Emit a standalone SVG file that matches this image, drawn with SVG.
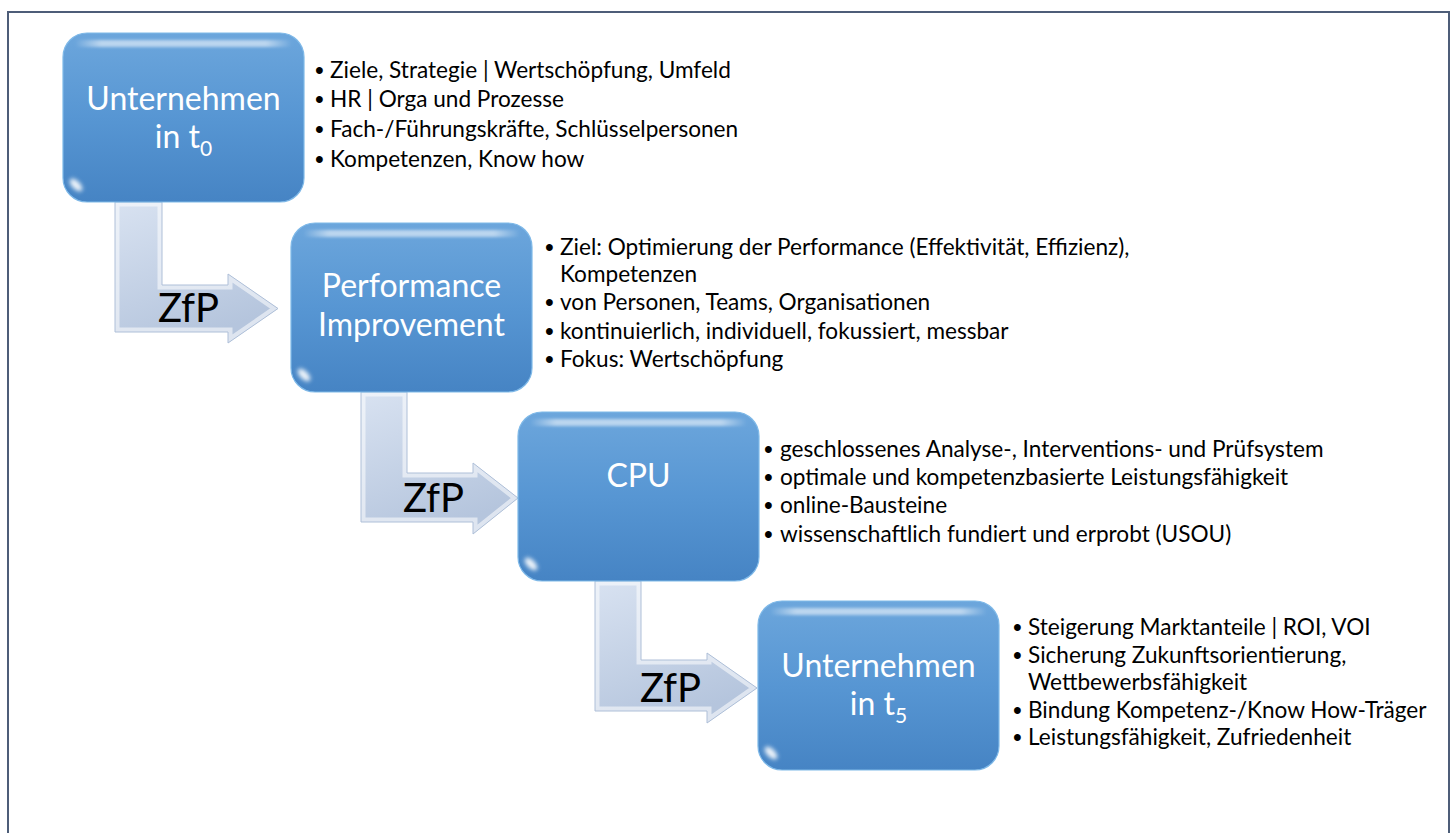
<svg xmlns="http://www.w3.org/2000/svg" width="1456" height="833" viewBox="0 0 1456 833">
  <style>
    .frame { fill: #ffffff; stroke: #4d5d78; stroke-width: 2; }
    .box { fill: url(#boxFill); stroke: #7fb9e8; stroke-width: 1.2; }
    .gloss { fill: url(#glossFill); filter: url(#soft); }
    .spot { fill: #ffffff; opacity: 0.9; filter: url(#soft2); }
    .label { font-family: Lato, "Open Sans", "Liberation Sans", sans-serif; font-size: 32px; fill: #ffffff; text-anchor: middle; }
    .sub { font-size: 21px; }
    .arrow { fill: url(#arrowFill); }
    .bevel { fill: none; stroke: #ffffff; stroke-opacity: 0.55; stroke-width: 9; }
    .edge { fill: none; stroke: #aebfd8; stroke-width: 1; }
    .zfp { font-family: Lato, "Open Sans", "Liberation Sans", sans-serif; font-size: 40px; fill: #000000; }
    .item { font-family: Lato, "Open Sans", "Liberation Sans", sans-serif; font-size: 22.6px; fill: #000000; }
    .dot { font-family: "Liberation Sans", Arial, sans-serif; font-size: 25px; fill: #000000; }
  </style>
  <defs>
    <linearGradient id="boxFill" x1="0" y1="0" x2="0" y2="1">
      <stop offset="0" stop-color="#6ca6dc"/>
      <stop offset="0.5" stop-color="#5796d3"/>
      <stop offset="1" stop-color="#4684c4"/>
    </linearGradient>
    <linearGradient id="glossFill" x1="0" y1="0" x2="1" y2="0">
      <stop offset="0" stop-color="#ffffff" stop-opacity="0"/>
      <stop offset="0.12" stop-color="#ffffff" stop-opacity="0.55"/>
      <stop offset="0.88" stop-color="#ffffff" stop-opacity="0.55"/>
      <stop offset="1" stop-color="#ffffff" stop-opacity="0"/>
    </linearGradient>
    <linearGradient id="arrowFill" x1="0" y1="0" x2="0.4" y2="1">
      <stop offset="0" stop-color="#d8e2f1"/>
      <stop offset="1" stop-color="#b5c5dd"/>
    </linearGradient>
    <filter id="soft" x="-10%" y="-100%" width="120%" height="300%">
      <feGaussianBlur stdDeviation="1.6"/>
    </filter>
    <filter id="soft2" x="-100%" y="-100%" width="300%" height="300%">
      <feGaussianBlur stdDeviation="2.2"/>
    </filter>
    <!-- arrow outlines, reused for fill, bevel clip and edge -->
    <polygon id="a1" points="115,202 162,202 162,285 228,285 228,274 278,308.5 228,343 228,332 115,332"/>
    <polygon id="a2" points="361,392 407,392 407,473 473,473 473,463 518,498 473,534 473,522 361,522"/>
    <polygon id="a3" points="595,581 641,581 641,660 707,660 707,653 757,688 707,723 707,711 595,711"/>
    <clipPath id="c1"><use href="#a1"/></clipPath>
    <clipPath id="c2"><use href="#a2"/></clipPath>
    <clipPath id="c3"><use href="#a3"/></clipPath>
  </defs>

  <rect class="frame" x="8" y="12" width="1441" height="840"/>

  <!-- bent ZfP arrows between the stages -->
  <g id="connectors">
    <g id="arrow1">
      <use href="#a1" class="arrow"/>
      <use href="#a1" class="bevel" clip-path="url(#c1)"/>
      <use href="#a1" class="edge"/>
      <text class="zfp" x="158" y="322">ZfP</text>
    </g>
    <g id="arrow2">
      <use href="#a2" class="arrow"/>
      <use href="#a2" class="bevel" clip-path="url(#c2)"/>
      <use href="#a2" class="edge"/>
      <text class="zfp" x="403" y="512">ZfP</text>
    </g>
    <g id="arrow3">
      <use href="#a3" class="arrow"/>
      <use href="#a3" class="bevel" clip-path="url(#c3)"/>
      <use href="#a3" class="edge"/>
      <text class="zfp" x="640" y="702">ZfP</text>
    </g>
  </g>

  <!-- stage 1 -->
  <g id="stage1">
    <rect class="box" x="63" y="33" width="241" height="169" rx="24"/>
    <rect class="gloss" x="75" y="40" width="217" height="7" rx="3.5"/>
    <ellipse class="spot" cx="76" cy="185" rx="4" ry="8" transform="rotate(-45 76 185)"/>
    <text class="label" x="183.5" y="110">Unternehmen</text>
    <text class="label" x="183.5" y="148">in t<tspan class="sub" dy="8">0</tspan></text>
  </g>
  <g id="notes1">
    <text class="dot" x="315" y="79">•</text><text class="item" x="330" y="78">Ziele, Strategie | Wertschöpfung, Umfeld</text>
    <text class="dot" x="315" y="108">•</text><text class="item" x="330" y="107">HR | Orga und Prozesse</text>
    <text class="dot" x="315" y="138">•</text><text class="item" x="330" y="137">Fach-/Führungskräfte, Schlüsselpersonen</text>
    <text class="dot" x="315" y="168">•</text><text class="item" x="330" y="167">Kompetenzen, Know how</text>
  </g>

  <!-- stage 2 -->
  <g id="stage2">
    <rect class="box" x="291" y="223" width="241" height="169" rx="24"/>
    <rect class="gloss" x="303" y="230" width="217" height="7" rx="3.5"/>
    <ellipse class="spot" cx="304" cy="375" rx="4" ry="8" transform="rotate(-45 304 375)"/>
    <text class="label" x="411.5" y="297">Performance</text>
    <text class="label" x="411.5" y="336">Improvement</text>
  </g>
  <g id="notes2">
    <text class="dot" x="545" y="256">•</text><text class="item" x="560" y="255">Ziel: Optimierung der Performance (Effektivität, Effizienz),</text>
    <text class="item" x="560" y="282">Kompetenzen</text>
    <text class="dot" x="545" y="311">•</text><text class="item" x="560" y="310">von Personen, Teams, Organisationen</text>
    <text class="dot" x="545" y="340">•</text><text class="item" x="560" y="339">kontinuierlich, individuell, fokussiert, messbar</text>
    <text class="dot" x="545" y="368">•</text><text class="item" x="560" y="367">Fokus: Wertschöpfung</text>
  </g>

  <!-- stage 3 -->
  <g id="stage3">
    <rect class="box" x="518" y="412" width="241" height="169" rx="24"/>
    <rect class="gloss" x="530" y="419" width="217" height="7" rx="3.5"/>
    <ellipse class="spot" cx="531" cy="564" rx="4" ry="8" transform="rotate(-45 531 564)"/>
    <text class="label" x="638.5" y="487">CPU</text>
  </g>
  <g id="notes3">
    <text class="dot" x="764" y="458">•</text><text class="item" x="780" y="457">geschlossenes Analyse-, Interventions- und Prüfsystem</text>
    <text class="dot" x="764" y="486">•</text><text class="item" x="780" y="485">optimale und kompetenzbasierte Leistungsfähigkeit</text>
    <text class="dot" x="764" y="514">•</text><text class="item" x="780" y="513">online-Bausteine</text>
    <text class="dot" x="764" y="543">•</text><text class="item" x="780" y="542">wissenschaftlich fundiert und erprobt (USOU)</text>
  </g>

  <!-- stage 4 -->
  <g id="stage4">
    <rect class="box" x="758" y="601" width="241" height="169" rx="24"/>
    <rect class="gloss" x="770" y="608" width="217" height="7" rx="3.5"/>
    <ellipse class="spot" cx="771" cy="753" rx="4" ry="8" transform="rotate(-45 771 753)"/>
    <text class="label" x="878.5" y="677">Unternehmen</text>
    <text class="label" x="878.5" y="715">in t<tspan class="sub" dy="8">5</tspan></text>
  </g>
  <g id="notes4">
    <text class="dot" x="1013" y="636">•</text><text class="item" x="1028" y="635">Steigerung Marktanteile | ROI, VOI</text>
    <text class="dot" x="1013" y="664">•</text><text class="item" x="1028" y="663">Sicherung Zukunftsorientierung,</text>
    <text class="item" x="1028" y="690">Wettbewerbsfähigkeit</text>
    <text class="dot" x="1013" y="719">•</text><text class="item" x="1028" y="718">Bindung Kompetenz-/Know How-Träger</text>
    <text class="dot" x="1013" y="746">•</text><text class="item" x="1028" y="745">Leistungsfähigkeit, Zufriedenheit</text>
  </g>
</svg>
